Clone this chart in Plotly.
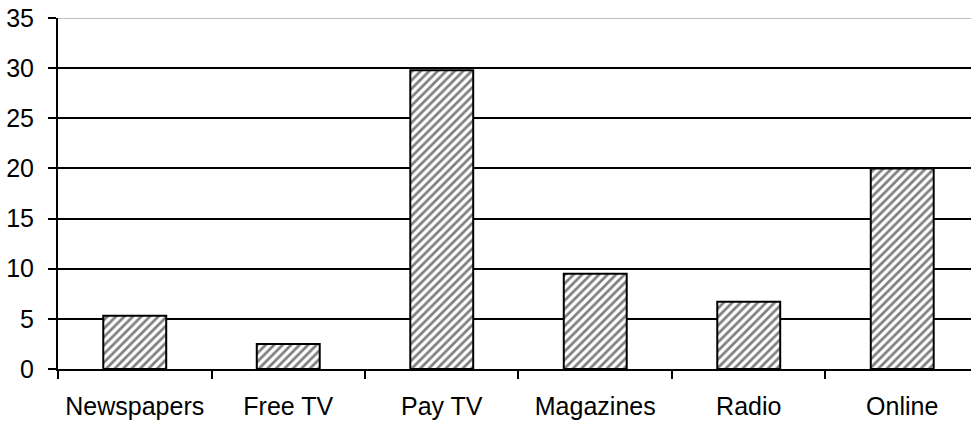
import plotly.graph_objects as go

categories = ["Newspapers", "Free TV", "Pay TV", "Magazines", "Radio", "Online"]
values = [5.3, 2.5, 29.8, 9.5, 6.7, 20.0]
y_ticks = [0, 5, 10, 15, 20, 25, 30, 35]

fig = go.Figure()
fig.add_trace(go.Bar(
    x=categories, y=values,
    marker=dict(
        color="white",
        line=dict(color="black", width=2),
        pattern=dict(shape="/", fgcolor="black", bgcolor="white", size=6, solidity=0.45),
    ),
    width=0.41,
))

fig.add_shape(type="line", xref="paper", yref="y", x0=0, x1=1, y0=35, y1=35,
              line=dict(color="#c0c0c0", width=2), layer="above")

fig.update_layout(
    width=971, height=421,
    margin=dict(l=58, r=0, t=18, b=52),
    paper_bgcolor="white", plot_bgcolor="white",
    showlegend=False,
    font=dict(family="Liberation Sans, Arial, sans-serif", size=25, color="black"),
    bargap=0.59,
)
fig.update_xaxes(
    type="category",
    range=[-0.5, 5.448],
    showline=True, linecolor="black", linewidth=2,
    ticks="outside", ticklen=8, tickwidth=2, tickcolor="black",
    tickson="boundaries",
    showgrid=False,
    ticklabelstandoff=14,
)
fig.update_yaxes(
    range=[0, 35],
    tickvals=y_ticks,
    showline=True, linecolor="black", linewidth=2,
    ticks="outside", ticklen=8, tickwidth=2, tickcolor="black",
    showgrid=True, gridcolor="black", gridwidth=2,
    zeroline=False,
    ticklabelstandoff=9,
)

fig.write_html("out.html")
